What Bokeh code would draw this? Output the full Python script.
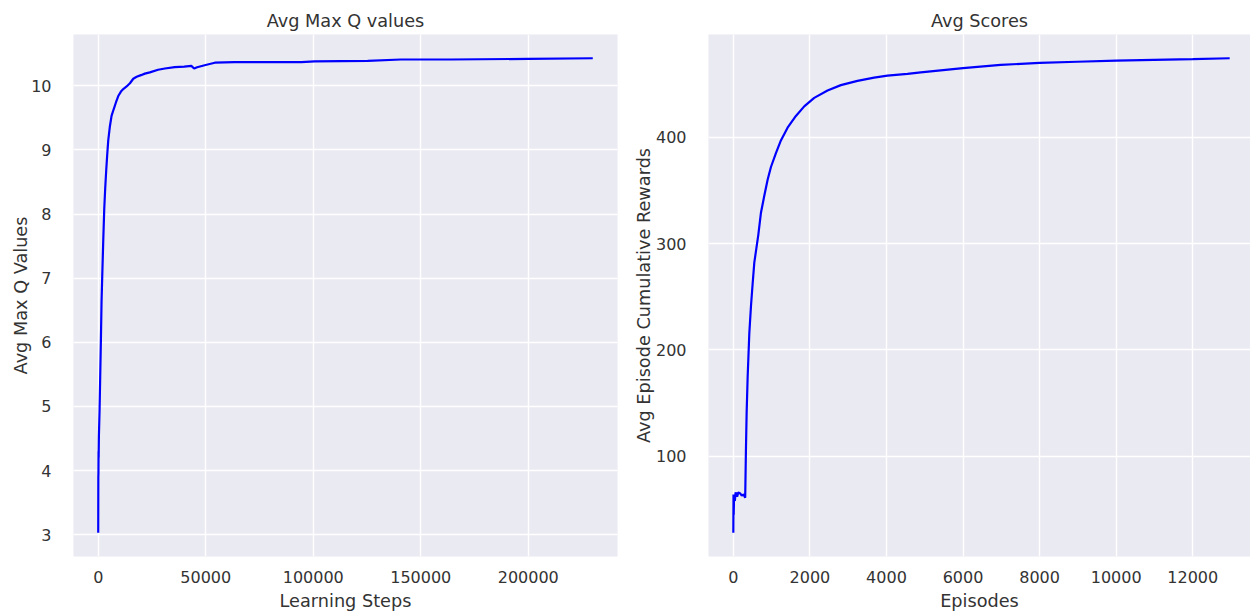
from bokeh.plotting import figure
from bokeh.layouts import row
from bokeh.models import BasicTickFormatter, Range1d
from bokeh.embed import file_html
from bokeh.resources import INLINE

# ---------------- data ----------------
q_steps = [0, 50, 100, 150, 200, 310, 620, 930, 1240, 1550, 1860, 2330, 2800,
           3260, 3730, 4190, 4660, 5430, 6200, 7140, 8230, 9320, 10560, 11650,
           13200, 14750, 16300, 17860, 20190, 21660, 24000, 27850, 31000, 35600,
           40000, 43300, 44600, 46000, 49500, 54200, 63400, 78900, 94500, 100600,
           125300, 140800, 150000, 164000, 200000, 230000]
q_values = [3.03, 3.9, 3.95, 4.3, 4.2, 4.53, 4.93, 5.48, 6.03, 6.64, 7.02, 7.58, 8.08,
            8.41, 8.69, 8.93, 9.15, 9.37, 9.53, 9.63, 9.74, 9.84, 9.91, 9.95,
            9.99, 10.04, 10.11, 10.14, 10.17, 10.19, 10.21, 10.25, 10.27, 10.29,
            10.30, 10.31, 10.27, 10.29, 10.32, 10.36, 10.37, 10.37, 10.37, 10.38,
            10.39, 10.41, 10.41, 10.41, 10.42, 10.43]

score_episodes = [0, 5, 10, 20, 40, 60, 100, 130, 180, 220, 270, 310, 330, 348, 374,
                  417, 461, 504, 548, 600, 652, 722, 809, 896, 983, 1113, 1243, 1417,
                  1635, 1852, 2113, 2461, 2809, 3243, 3678, 4026, 4548, 4896, 6000,
                  6983, 8000, 8983, 10000, 10983, 12000, 12965]
score_values = [28, 64, 45, 64, 58, 66, 62, 66, 65, 63, 64, 61, 107, 141, 174,
                215, 241, 262, 282, 295, 308, 329, 345, 360, 372, 385, 397, 409,
                420, 429, 437, 444, 449, 453, 456, 458, 459.5, 461, 465,
                468, 470, 471, 472, 472.7, 473.4, 474.3]

q_xticks = [0, 50000, 100000, 150000, 200000]
q_yticks = [3, 4, 5, 6, 7, 8, 9, 10]
s_xticks = [0, 2000, 4000, 6000, 8000, 10000, 12000]
s_yticks = [100, 200, 300, 400]

TEXT = "#333333"
BG = "#EAEAF2"
FONT = "DejaVu Sans"


def padded(vals, frac=0.05):
    lo, hi = min(vals), max(vals)
    m = (hi - lo) * frac
    return lo - m, hi + m


def style(p, xlabel, ylabel, xticks, yticks, ylabel_standoff):
    p.background_fill_color = BG
    p.border_fill_color = "white"
    p.outline_line_color = None
    p.title.text_font = FONT
    p.title.text_font_size = "17.7px"
    p.title.text_font_style = "normal"
    p.title.text_color = TEXT
    p.title.align = "center"
    p.title.standoff = 7
    for ax in (p.xaxis[0], p.yaxis[0]):
        ax.axis_line_color = None
        ax.major_tick_line_color = None
        ax.minor_tick_line_color = None
        ax.major_label_text_font = FONT
        ax.major_label_text_font_size = "16px"
        ax.major_label_text_color = TEXT
        ax.axis_label_text_font = FONT
        ax.axis_label_text_font_size = "17.7px"
        ax.axis_label_text_font_style = "normal"
        ax.axis_label_text_color = TEXT
        ax.formatter = BasicTickFormatter(use_scientific=False)
    p.xaxis.axis_label = xlabel
    p.yaxis.axis_label = ylabel
    p.xaxis.ticker = xticks
    p.yaxis.ticker = yticks
    p.xaxis.major_label_standoff = 8
    p.xaxis.axis_label_standoff = 5
    p.yaxis.major_label_standoff = 16
    p.yaxis.axis_label_standoff = ylabel_standoff
    p.grid.grid_line_color = "white"
    p.grid.grid_line_width = 1.4


# ---------------- left: Avg Max Q values ----------------
qx0, qx1 = padded(q_steps)
qy0, qy1 = padded(q_values)
p1 = figure(width=625, height=613, output_backend="svg", toolbar_location=None,
            title="Avg Max Q values",
            x_range=Range1d(qx0, qx1), y_range=Range1d(qy0, qy1),
            min_border_left=73, min_border_right=8, min_border_top=34,
            min_border_bottom=57)
p1.line(q_steps, q_values, line_color="#0000FF", line_width=2.2)
style(p1, "Learning Steps", "Avg Max Q Values", q_xticks, q_yticks, -3)

# ---------------- right: Avg Scores ----------------
sx0, sx1 = padded(score_episodes)
# the reference's right panel runs past the picture's edge: show 542 of its 546 px
sx1 = sx0 + (sx1 - sx0) * 542.0 / 546.0
sy0, sy1 = padded(score_values)
p2 = figure(width=625, height=613, output_backend="svg", toolbar_location=None,
            title="Avg Scores",
            x_range=Range1d(sx0, sx1), y_range=Range1d(sy0, sy1),
            min_border_left=83, min_border_right=0, min_border_top=34,
            min_border_bottom=57)
p2.line(score_episodes, score_values, line_color="#0000FF", line_width=2.2)
style(p2, "Episodes", "Avg Episode Cumulative Rewards", s_xticks, s_yticks, -1)

layout = row(p1, p2)
open("out.html", "w").write(file_html(layout, INLINE))
